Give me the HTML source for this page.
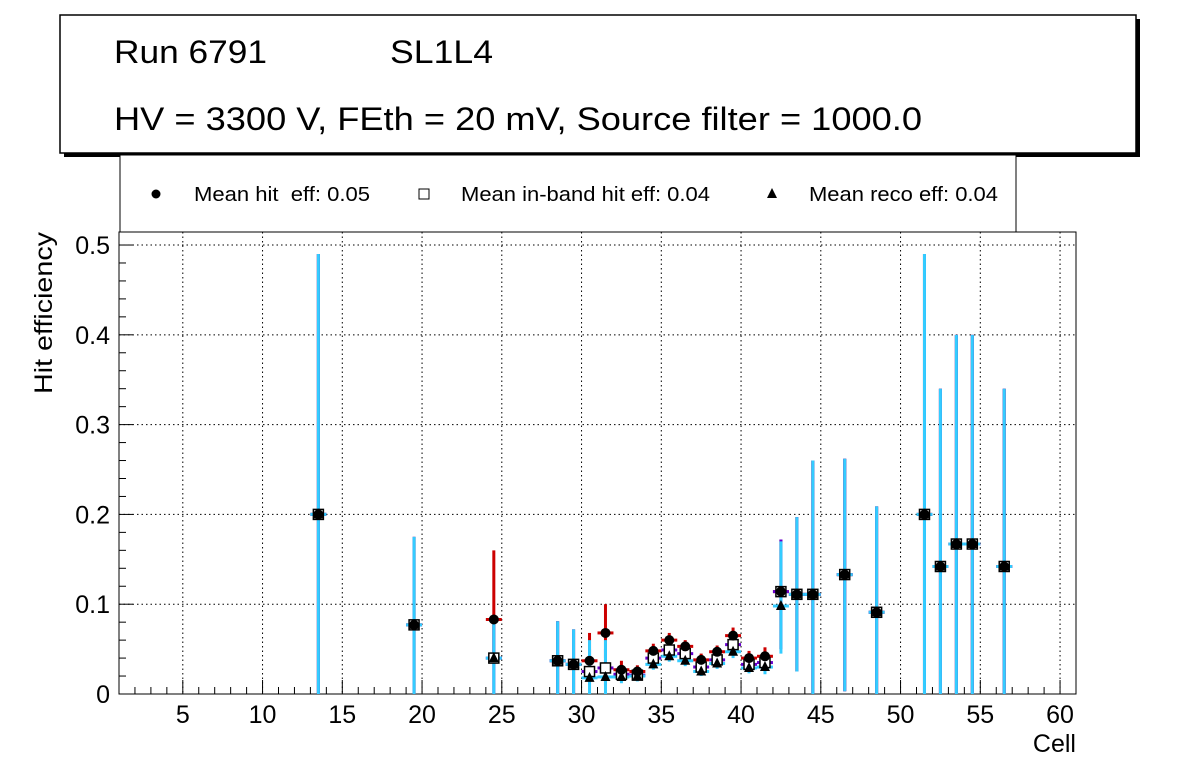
<!DOCTYPE html>
<html><head><meta charset="utf-8"><style>
body{margin:0;background:#fff;}
svg{display:block;font-family:"Liberation Sans",sans-serif;}
text{white-space:pre;}
</style></head><body>
<svg id="c" width="1196" height="772" xmlns="http://www.w3.org/2000/svg">
<rect x="64" y="19" width="1076" height="138" fill="#000"/>
<rect x="60" y="15" width="1076" height="138" fill="#fff" stroke="#000" stroke-width="1.5"/>
<text x="114" y="63" font-size="32" textLength="153" lengthAdjust="spacingAndGlyphs">Run 6791</text>
<text x="390" y="63" font-size="32" textLength="103" lengthAdjust="spacingAndGlyphs">SL1L4</text>
<text x="114" y="130" font-size="32" textLength="808" lengthAdjust="spacingAndGlyphs">HV = 3300 V, FEth = 20 mV, Source filter = 1000.0</text>
<g>
<rect x="120" y="155" width="896" height="77" fill="#fff" stroke="#000"/>
<g><circle cx="156" cy="194" r="4.5" fill="#000"/><text x="194" y="201" font-size="20" textLength="176" lengthAdjust="spacingAndGlyphs" xml:space="preserve">Mean hit  eff: 0.05</text></g>
<g><rect x="419" y="189" width="10" height="10" fill="#fff" stroke="#000"/><text x="461" y="201" font-size="20" textLength="249" lengthAdjust="spacingAndGlyphs">Mean in-band hit eff: 0.04</text></g>
<g><polygon points="772,188 777,198 767,198" fill="#000"/><text x="809" y="201" font-size="20" textLength="189" lengthAdjust="spacingAndGlyphs">Mean reco eff: 0.04</text></g>
</g>
<g id="plot"></g>
<text x="1076" y="752" font-size="25" text-anchor="end">Cell</text>
<text transform="translate(52,394) rotate(-90)" font-size="25" textLength="162" lengthAdjust="spacingAndGlyphs">Hit efficiency</text>
</svg>
<script>
const cells =      [13,19,24,28,29,30,31,32,33,34,35,36,37,38,39,40,41,42,43,44,46,48,51,52,53,54,56];
const hitEff =     [0.2,0.077,0.083,0.037,0.033,0.037,0.068,0.027,0.025,0.048,0.06,0.053,0.038,0.047,0.065,0.04,0.042,0.114,0.111,0.111,0.133,0.091,0.2,0.142,0.167,0.167,0.142];
const hitLo =      [0,0,0.04,0,0,0.02,0.04,0.018,0.018,0.04,0.05,0.045,0.03,0.04,0.055,0.032,0.035,0.05,0.025,0,0.003,0,0,0,0,0,0];
const hitHi =      [0.49,0.175,0.16,0.081,0.072,0.068,0.1,0.037,0.032,0.056,0.068,0.06,0.045,0.054,0.074,0.048,0.052,0.172,0.197,0.26,0.262,0.209,0.49,0.34,0.4,0.4,0.34];
const inbandEff =  [0.2,0.077,0.04,0.037,0.033,0.025,0.029,0.022,0.021,0.04,0.049,0.045,0.03,0.038,0.055,0.033,0.035,0.114,0.111,0.111,0.133,0.091,0.2,0.142,0.167,0.167,0.142];
const inbandLo =   [0,0,0,0,0,0.01,0.01,0.015,0.015,0.033,0.042,0.038,0.024,0.032,0.048,0.027,0.029,0.05,0.025,0,0.003,0,0,0,0,0,0];
const inbandHi =   [0.49,0.175,0.082,0.081,0.072,0.05,0.05,0.03,0.028,0.047,0.056,0.052,0.036,0.045,0.062,0.04,0.042,0.172,0.197,0.26,0.262,0.209,0.49,0.34,0.4,0.4,0.34];
const recoEff =    [0.2,0.077,0.04,0.037,0.033,0.018,0.019,0.019,0.02,0.033,0.042,0.037,0.025,0.034,0.047,0.029,0.03,0.098,0.111,0.111,0.133,0.091,0.2,0.142,0.167,0.167,0.142];
const recoLo =     [0,0,0,0,0,0,0,0.012,0.014,0.027,0.036,0.031,0.02,0.028,0.04,0.023,0.022,0.045,0.025,0,0.003,0,0,0,0,0,0];
const recoHi =     [0.49,0.175,0.082,0.081,0.072,0.06,0.06,0.028,0.027,0.04,0.048,0.043,0.03,0.04,0.054,0.036,0.038,0.17,0.197,0.26,0.262,0.209,0.49,0.34,0.4,0.4,0.34];
const xTicks = [5,10,15,20,25,30,35,40,45,50,55,60];
const yTicks = [0,0.1,0.2,0.3,0.4,0.5];
const yTickLabels = ["0","0.1","0.2","0.3","0.4","0.5"];

const L=119,R=1076,T=232,B=694, XMIN=1,XMAX=61, YMAX=0.5145;
const sx=v=>L+(v-XMIN)/(XMAX-XMIN)*(R-L);
const sy=v=>B-v/YMAX*(B-T);
const NS="http://www.w3.org/2000/svg";
const g=document.getElementById('plot');
function mk(tag,attrs,parent){const e=document.createElementNS(NS,tag);for(const k in attrs)e.setAttribute(k,attrs[k]);(parent||g).appendChild(e);return e;}
for(const t of xTicks){const e=mk('line',{x1:sx(t),x2:sx(t),y1:T,y2:B,stroke:'#000','stroke-dasharray':'1.5,3','stroke-width':1});

}
for(const t of yTicks.slice(1)){const e=mk('line',{x1:L,x2:R,y1:sy(t),y2:sy(t),stroke:'#000','stroke-dasharray':'1.5,3','stroke-width':1});

}
const fr=mk('rect',{x:L,y:T,width:R-L,height:B-T,fill:'none',stroke:'#000','stroke-width':1});


for(let v=XMIN;v<=XMAX;v++){const maj=v%5===0;mk('line',{x1:sx(v),x2:sx(v),y1:B,y2:B-(maj?14:7),stroke:'#000'});}
xTicks.forEach(t=>{const e=mk('text',{x:sx(t),y:B+29,'font-size':25,'text-anchor':'middle'});e.textContent=t;

});
for(let v=0;v<=0.5001;v+=0.02){const maj=Math.abs(v*10-Math.round(v*10))<1e-6;mk('line',{x1:L,x2:L+(maj?14:7),y1:sy(v),y2:sy(v),stroke:'#000'});}
yTicks.forEach((t,i)=>{const e=mk('text',{x:L-9,y:sy(t)+9,'font-size':25,'text-anchor':'end'});e.textContent=yTickLabels[i];

});
const hw=(sx(1.5)-sx(1));
function series(eff,lo,hi,col,name){
 cells.forEach((c,i)=>{const x=sx(c+0.5);
  const e=mk('g',{});
  
  
  mk('line',{x1:x,x2:x,y1:sy(lo[i]),y2:sy(hi[i]),stroke:col,'stroke-width':3},e);
  mk('line',{x1:x-hw,x2:x+hw,y1:sy(eff[i]),y2:sy(eff[i]),stroke:col,'stroke-width':3},e);
 });
}
series(hitEff,hitLo,hitHi,'#cc0000','hit');
series(inbandEff,inbandLo,inbandHi,'#6600cc','inband');
series(recoEff,recoLo,recoHi,'#33ccff','reco');
cells.forEach((c,i)=>{const x=sx(c+0.5);
 const b=mk('rect',{x:x-5,y:sy(inbandEff[i])-5,width:10,height:10,fill:'#fff',stroke:'#000','stroke-width':1.5});
 
 
 const a=mk('circle',{cx:x,cy:sy(hitEff[i]),r:5,fill:'#000'});
 
 
 const y=sy(recoEff[i]);
 const t=mk('polygon',{points:`${x},${y-6} ${x+5},${y+4} ${x-5},${y+4}`,fill:'#000'});
 
 
});
</script>
</body></html>
